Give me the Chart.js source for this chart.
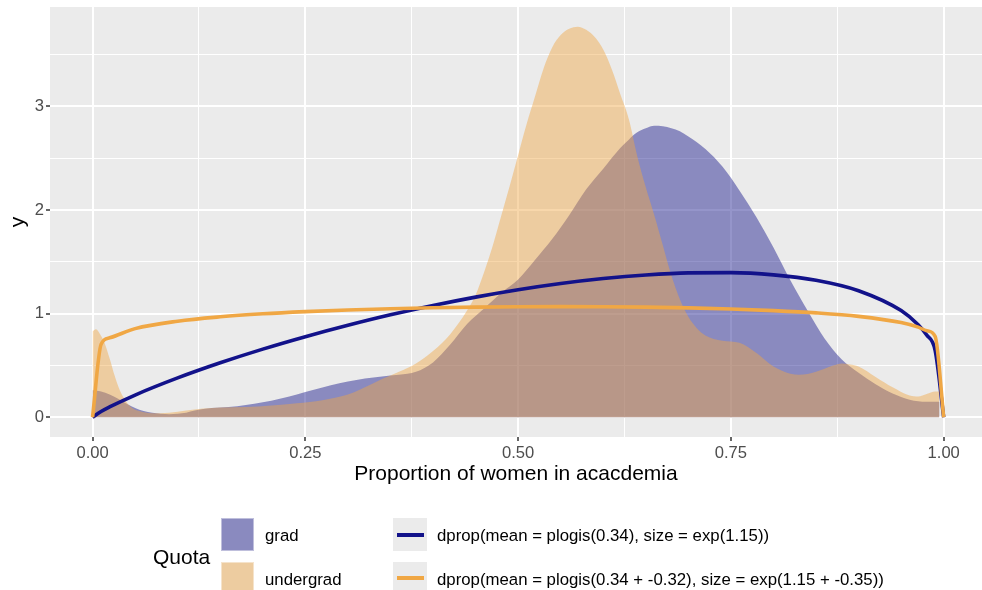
<!DOCTYPE html>
<html>
<head>
<meta charset="utf-8">
<script src="https://cdn.jsdelivr.net/npm/chart.js@4.4.1/dist/chart.umd.min.js"></script>
<style>
    body { margin: 0; background: #ffffff; font-family: "Liberation Sans", Arial, sans-serif; }
    #wrap { position: relative; width: 982px; height: 590px; overflow: hidden; }
    #legend div { position: absolute; white-space: nowrap; line-height: 1; }
</style>
</head>
<body>
<div id="wrap">
    <canvas id="myChart" width="982" height="590"></canvas>
    <div id="legend"></div>
</div>
<script>
// density of observed proportions, per quota group
var gradX = [0, 0.01, 0.02, 0.03, 0.04, 0.05, 0.06, 0.07, 0.08, 0.09, 0.10, 0.11, 0.12,
    0.14, 0.16, 0.18, 0.20, 0.22, 0.24, 0.26, 0.28, 0.30, 0.32, 0.34, 0.36, 0.38, 0.40,
    0.42, 0.44, 0.46, 0.48, 0.50, 0.52, 0.54, 0.56, 0.58, 0.60, 0.62,
    0.63, 0.64, 0.65, 0.66, 0.67, 0.68, 0.69, 0.70,
    0.72, 0.74, 0.76, 0.78, 0.80, 0.82, 0.84, 0.86, 0.88, 0.90, 0.92, 0.94, 0.96, 0.98, 0.995];
var gradY = [0.26, 0.25, 0.22, 0.18, 0.13, 0.09, 0.06, 0.045, 0.035, 0.03, 0.035, 0.045, 0.065,
    0.09, 0.10, 0.12, 0.145, 0.18, 0.22, 0.265, 0.31, 0.345, 0.375, 0.395, 0.41, 0.44, 0.53,
    0.70, 0.90, 1.05, 1.20, 1.33, 1.52, 1.72, 1.95, 2.20, 2.40, 2.60,
    2.68, 2.75, 2.79, 2.815, 2.81, 2.79, 2.76, 2.71,
    2.59, 2.42, 2.19, 1.93, 1.64, 1.32, 1.03, 0.76, 0.56, 0.43, 0.32, 0.23, 0.17, 0.15, 0.15];

var undergradX = [0, 0.004, 0.009, 0.014, 0.02, 0.026, 0.032, 0.038, 0.045, 0.055, 0.07,
    0.09, 0.11, 0.13, 0.15, 0.18, 0.21, 0.24, 0.27, 0.30, 0.32, 0.34, 0.36, 0.38, 0.40, 0.42, 0.44,
    0.45, 0.46, 0.47, 0.48, 0.49, 0.50, 0.51, 0.52, 0.53, 0.54, 0.55, 0.56, 0.57, 0.58, 0.59,
    0.60, 0.61, 0.62, 0.63, 0.64, 0.65, 0.66, 0.67, 0.68, 0.69, 0.70, 0.71, 0.72,
    0.74, 0.76, 0.78, 0.80, 0.82, 0.83, 0.85, 0.87, 0.88, 0.89, 0.90,
    0.92, 0.94, 0.96, 0.97, 0.98, 0.99, 0.995];
var undergradY = [0.83, 0.85, 0.80, 0.72, 0.57, 0.40, 0.26, 0.17, 0.10, 0.06, 0.04,
    0.045, 0.065, 0.085, 0.095, 0.10, 0.115, 0.135, 0.165, 0.22, 0.29, 0.37, 0.44, 0.52, 0.64, 0.80, 1.03,
    1.18, 1.40, 1.65, 1.94, 2.23, 2.53, 2.83, 3.10, 3.37, 3.57, 3.69, 3.75, 3.77, 3.74, 3.67,
    3.55, 3.36, 3.12, 2.88, 2.52, 2.22, 1.95, 1.66, 1.37, 1.14, 0.97, 0.86, 0.79,
    0.74, 0.72, 0.62, 0.49, 0.42, 0.41, 0.44, 0.50, 0.52, 0.51, 0.49,
    0.39, 0.29, 0.21, 0.20, 0.225, 0.25, 0.25];

// fitted dprop curves
var curveX = [0, 0.01, 0.02, 0.05, 0.10, 0.15, 0.20, 0.25, 0.30, 0.35, 0.40, 0.45, 0.50,
    0.55, 0.60, 0.65, 0.70, 0.75, 0.80, 0.85, 0.90, 0.95, 0.97, 0.98, 0.99, 1.00];
var gradCurveY = [0, 0.056, 0.100, 0.215, 0.380, 0.526, 0.658, 0.778, 0.888, 0.989, 1.079, 1.160, 1.231,
    1.291, 1.339, 1.374, 1.394, 1.396, 1.375, 1.323, 1.222, 1.030, 0.893, 0.794, 0.644, 0];
var undergradCurveY = [0, 0.704, 0.767, 0.856, 0.928, 0.970, 0.999, 1.020, 1.036, 1.048, 1.057, 1.063, 1.067,
    1.068, 1.067, 1.063, 1.056, 1.046, 1.030, 1.008, 0.974, 0.914, 0.870, 0.836, 0.780, 0];

var quotaNames = ['grad', 'undergrad'];
var curveNames = ['dprop(mean = plogis(0.34), size = exp(1.15))',
    'dprop(mean = plogis(0.34 + -0.32), size = exp(1.15 + -0.35))'];

var xTicks = [0, 0.25, 0.5, 0.75, 1];
var xTickLabels = ['0.00', '0.25', '0.50', '0.75', '1.00'];
var xMinor = [0.125, 0.375, 0.625, 0.875];
var yTicks = [0, 1, 2, 3];
var yTickLabels = ['0', '1', '2', '3'];
var yMinor = [0.5, 1.5, 2.5, 3.5];

var xTitle = 'Proportion of women in acacdemia';
var yTitle = 'y';
var legendTitle = 'Quota';

var FONT = '"Liberation Sans", Arial, sans-serif';
var navy = '#12128a';
var orange = '#f0a744';
var navyFill = 'rgba(19, 19, 138, 0.45)';
var orangeFill = 'rgba(240, 167, 68, 0.45)';

function toPoints(xs, ys) {
    return xs.map(function (x, i) {
        return {x: x, y: ys[i]};
    });
}

function allTicks(major, minor) {
    return major.concat(minor).sort(function (a, b) { return a - b; });
}

function majorOnly(major, big, small) {
    return function (c) {
        if (!c.tick) return small;
        return major.indexOf(c.tick.value) >= 0 ? big : small;
    };
}

// grey panel behind the grid
var panelBg = {
    id: 'panelBg',
    beforeDraw: function (chart) {
        var a = chart.chartArea;
        var c = chart.ctx;
        c.save();
        c.fillStyle = '#ebebeb';
        c.fillRect(a.left, a.top, a.right - a.left, a.bottom - a.top);
        c.restore();
    }
};

var ctx = document.getElementById('myChart').getContext('2d');
var chart = new Chart(ctx, {
    type: 'line',
    data: {
        datasets: [{
            label: quotaNames[0],
            data: toPoints(gradX, gradY),
            backgroundColor: navyFill,
            borderWidth: 0,
            fill: 'origin',
            order: 4
        }, {
            label: quotaNames[1],
            data: toPoints(undergradX, undergradY),
            backgroundColor: orangeFill,
            borderWidth: 0,
            fill: 'origin',
            order: 3
        }, {
            label: curveNames[0],
            data: toPoints(curveX, gradCurveY),
            borderColor: navy,
            borderWidth: 3.6,
            fill: false,
            order: 2
        }, {
            label: curveNames[1],
            data: toPoints(curveX, undergradCurveY),
            borderColor: orange,
            borderWidth: 3.6,
            fill: false,
            order: 1
        }]
    },
    options: {
        responsive: false,
        animation: false,
        layout: { padding: { top: 7, right: 0, bottom: 100, left: 0 } },
        elements: {
            point: { radius: 0, hoverRadius: 0 },
            line: { cubicInterpolationMode: 'monotone', borderJoinStyle: 'round' }
        },
        plugins: {
            legend: { display: false },
            tooltip: { enabled: false }
        },
        scales: {
            x: {
                type: 'linear',
                min: -0.05,
                max: 1.045,
                afterBuildTicks: function (scale) {
                    scale.ticks = allTicks(xTicks, xMinor).map(function (v) { return {value: v}; });
                },
                afterFit: function (scale) {
                    scale.height = 53;
                    scale.paddingLeft = 0;
                    scale.paddingRight = 0;
                },
                border: { display: false },
                grid: {
                    color: '#ffffff',
                    lineWidth: majorOnly(xTicks, 2, 1),
                    drawTicks: true,
                    tickLength: 4,
                    tickWidth: 1.5,
                    tickColor: majorOnly(xTicks, '#333333', 'rgba(0,0,0,0)')
                },
                ticks: {
                    autoSkip: false,
                    maxRotation: 0,
                    padding: 2,
                    color: '#4d4d4d',
                    font: { family: FONT, size: 16.6 },
                    callback: function (value) {
                        var i = xTicks.indexOf(value);
                        return i < 0 ? '' : xTickLabels[i];
                    }
                },
                title: {
                    display: true,
                    text: xTitle,
                    color: '#000000',
                    font: { family: FONT, size: 21 },
                    padding: { top: 0, bottom: 3 }
                }
            },
            y: {
                type: 'linear',
                min: -0.19,
                max: 3.96,
                afterBuildTicks: function (scale) {
                    scale.ticks = allTicks(yTicks, yMinor).map(function (v) { return {value: v}; });
                },
                afterFit: function (scale) {
                    scale.width = 50;
                    scale.paddingTop = 0;
                    scale.paddingBottom = 0;
                },
                border: { display: false },
                grid: {
                    color: '#ffffff',
                    lineWidth: majorOnly(yTicks, 2, 1),
                    drawTicks: true,
                    tickLength: 4,
                    tickWidth: 1.5,
                    tickColor: majorOnly(yTicks, '#333333', 'rgba(0,0,0,0)')
                },
                ticks: {
                    autoSkip: false,
                    padding: 2,
                    color: '#4d4d4d',
                    font: { family: FONT, size: 16.6 },
                    callback: function (value) {
                        var i = yTicks.indexOf(value);
                        return i < 0 ? '' : yTickLabels[i];
                    }
                },
                title: {
                    display: true,
                    text: yTitle,
                    color: '#000000',
                    font: { family: FONT, size: 21 },
                    padding: { top: 6, bottom: 0 }
                }
            }
        }
    },
    plugins: [panelBg]
});

// legend below the panel: fill keys on the left, line keys on the right
function addDiv(parent, css, text) {
    var d = document.createElement('div');
    d.style.cssText = css;
    if (text) d.textContent = text;
    parent.appendChild(d);
    return d;
}

var legend = document.getElementById('legend');
addDiv(legend, 'left:153px;top:546px;font-size:21px;color:#000;', legendTitle);

var rowTops = [518, 561.5];
chart.data.datasets.forEach(function (ds, i) {
    var row = i % 2;
    var top = rowTops[row];
    if (ds.fill) {
        var key = addDiv(legend, 'left:221px;top:' + top + 'px;width:33px;height:33px;background:#ebebeb;');
        addDiv(key, 'left:0;top:0;width:31px;height:31px;border:1px solid rgba(255,255,255,0.45);background:' + ds.backgroundColor + ';');
        addDiv(legend, 'left:265px;top:' + (top + 10) + 'px;font-size:16.8px;color:#000;', ds.label);
    } else {
        var box = addDiv(legend, 'left:393px;top:' + top + 'px;width:34px;height:33px;background:#ebebeb;');
        addDiv(box, 'left:3.5px;top:14.5px;width:27px;height:4px;background:' + ds.borderColor + ';');
        addDiv(legend, 'left:437px;top:' + (top + 10) + 'px;font-size:16.8px;color:#000;', ds.label);
    }
});
</script>
</body>
</html>
